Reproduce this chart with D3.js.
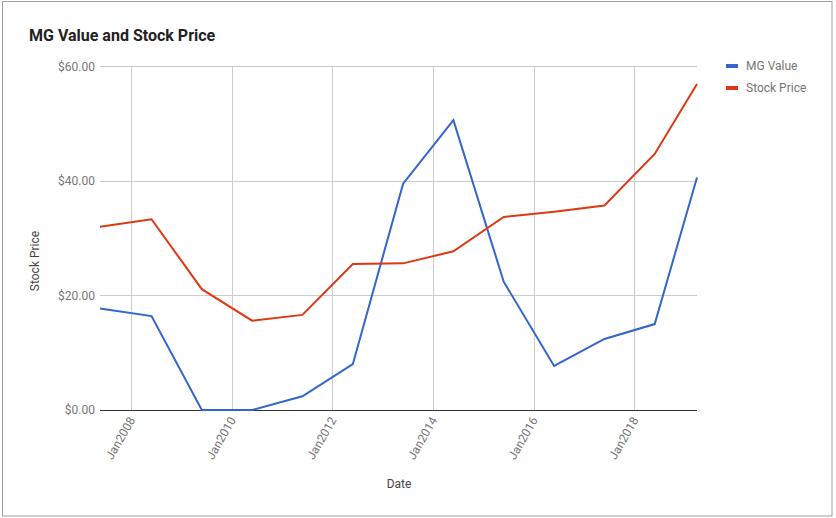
<!DOCTYPE html>
<html><head><meta charset="utf-8">
<script src="https://cdn.jsdelivr.net/npm/d3@7"></script>
<style>body{margin:0;background:#fff;font-family:Roboto,"Noto Sans",Arial,sans-serif;}</style>
</head><body>
<svg id="c" width="836" height="518"></svg>
<script>
const dates = ["2007-05-20","2008-05-28","2009-05-28","2010-05-28","2011-05-28","2012-05-28","2013-05-28","2014-05-28","2015-05-28","2016-05-28","2017-05-28","2018-05-28","2019-03-31"];
const mgValue = [17.7,16.4,0,0,2.4,8.0,39.5,50.6,22.4,7.7,12.4,15.0,40.6];
const stockPrice = [32.0,33.3,21.1,15.6,16.6,25.5,25.6,27.7,33.7,34.6,35.7,44.7,56.9];
const yTicks = [0,20,40,60];
const xTickYears = [2008,2010,2012,2014,2016,2018];
const seriesNames = ["MG Value","Stock Price"];
const colors = ["#3366cc","#dc3912"];

const svg = d3.select("#c");
const parse = d3.timeParse("%Y-%m-%d");
const dd = dates.map(parse);
const L=100,R=697,T=66.3,B=410;
const x = d3.scaleTime().domain([dd[0], dd[dd.length-1]]).range([L,R]);
const y = d3.scaleLinear().domain([0,60]).range([B,T]);

svg.append("rect").attr("x",2.5).attr("y",1.5).attr("width",829.5).attr("height",514.5)
  .attr("fill","#fff").attr("stroke","#9e9e9e").attr("stroke-width",1);

svg.append("text").attr("x",29).attr("y",41).text("MG Value and Stock Price")
  .attr("font-size",16).attr("font-weight","bold").attr("fill","#222");

// grid
const xt = xTickYears.map(yr=>new Date(yr,0,1));
svg.append("g").selectAll("line").data(xt).join("line")
  .attr("x1",d=>Math.round(x(d))+0.5).attr("x2",d=>Math.round(x(d))+0.5)
  .attr("y1",T).attr("y2",B).attr("stroke","#cccccc");
svg.append("g").selectAll("line").data(yTicks.filter(v=>v>0)).join("line")
  .attr("x1",L).attr("x2",R).attr("y1",d=>Math.round(y(d))+0.5).attr("y2",d=>Math.round(y(d))+0.5)
  .attr("stroke","#cccccc");

// y axis labels
const yAxis = d3.axisLeft(y).tickValues(yTicks).tickSize(0).tickPadding(5).tickFormat(d=>"$"+d3.format(".2f")(d));
const gy = svg.append("g").attr("transform",`translate(${L},0)`).call(yAxis);
gy.select(".domain").remove();
gy.selectAll("text").attr("font-size",12).attr("fill","#757575").attr("font-family","Roboto,Arial,sans-serif");

// x axis labels
const xAxis = d3.axisBottom(x).tickValues(xt).tickSize(0).tickPadding(0).tickFormat(d3.timeFormat("Jan%Y"));
const gx = svg.append("g").attr("transform",`translate(0,${B})`).call(xAxis);
gx.select(".domain").remove();
gx.selectAll("text").attr("font-size",12).attr("fill","#757575").attr("font-family","Roboto,Arial,sans-serif")
  .attr("text-anchor","end").attr("dy",0).attr("transform","translate(4,10) rotate(-60)");

// baseline
svg.append("line").attr("x1",L).attr("x2",R).attr("y1",B+0.5).attr("y2",B+0.5).attr("stroke","#333").attr("stroke-width",1.2);

// lines
const series = [mgValue, stockPrice];
const line = d3.line().x((d,i)=>x(dd[i])).y(d=>y(d));
series.forEach((s,k)=>{
  svg.append("path").datum(s).attr("d",line).attr("fill","none")
    .attr("stroke",colors[k]).attr("stroke-width",2).attr("stroke-linejoin","miter");
});

// axis titles
svg.append("text").attr("x",399).attr("y",488).attr("text-anchor","middle").text("Date")
  .attr("font-size",12).attr("fill","#444");
svg.append("text").attr("transform","translate(39,261) rotate(-90)").attr("text-anchor","middle").text("Stock Price")
  .attr("font-size",12).attr("fill","#444");

// legend
seriesNames.forEach((n,k)=>{
  const yy = 66 + k*22;
  svg.append("rect").attr("x",726).attr("y",yy-2).attr("width",12).attr("height",4).attr("fill",colors[k]);
  svg.append("text").attr("x",746).attr("y",yy+4).text(n).attr("font-size",12).attr("fill","#757575");
});
</script>
</body></html>
